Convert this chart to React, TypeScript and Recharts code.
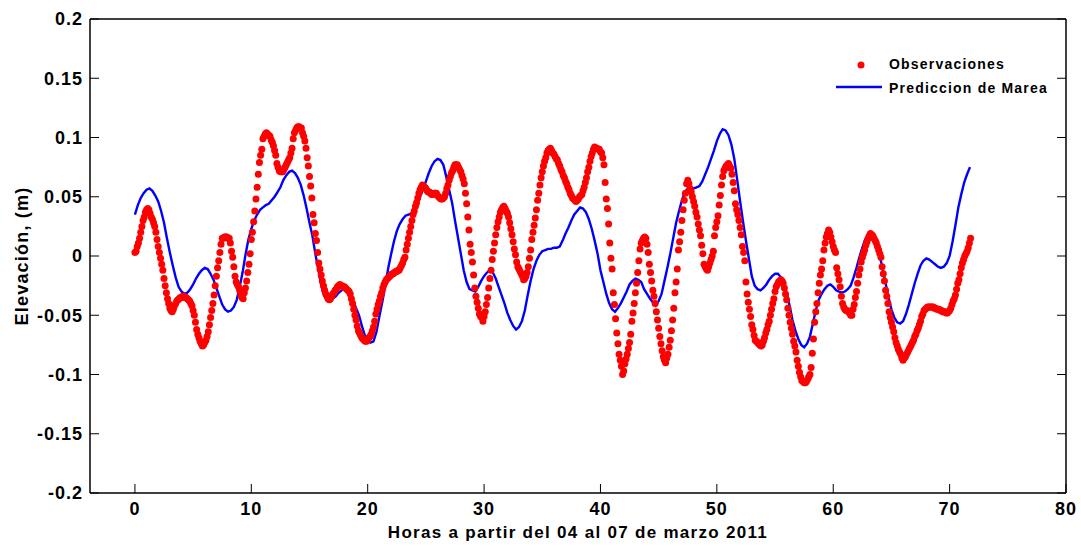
import React from 'react';
import { ComposedChart, Scatter, Line, XAxis, YAxis, Legend } from 'recharts';

// Observaciones cada 6 min (0.1 h), en mm
const obsDia1 = [
  3, 4, 8, 11, 15, 20, 25, 30, 33, 37,
  39, 40, 39, 36, 33, 31, 28, 25, 20, 14,
  8, 3, -2, -7, -12, -19, -25, -31, -36, -40,
  -44, -46, -47, -45, -42, -40, -38, -37, -36, -35,
  -35, -34, -34, -35, -35, -36, -37, -38, -40, -42,
  -46, -50, -56, -62, -66, -69, -72, -74, -76, -75,
  -73, -71, -68, -64, -58, -52, -46, -40, -33, -25,
  -17, -10, -4, 3, 10, 15, 15, 16, 16, 16,
  15, 15, 11, 4, -1, -9, -17, -22, -24, -26,
  -29, -33, -35, -36, -31, -27, -21, -14, -7, 2,
  14, 20, 29, 38, 48, 58, 69, 79, 85, 90,
  99, 101, 103, 104, 103, 102, 101, 98, 96, 93,
  89, 85, 78, 75, 72, 71, 71, 71, 73, 75,
  77, 79, 81, 83, 87, 91, 99, 104, 106, 108,
  109, 109, 108, 108, 104, 101, 97, 91, 83, 76,
  67, 59, 49, 35, 28, 19, 13, 3, -6, -11,
  -16, -21, -25, -29, -32, -34, -36, -37, -36, -34,
  -32, -31, -29, -28, -26, -25, -24, -25, -25, -26,
  -26, -27, -28, -29, -30, -32, -36, -40, -45, -50,
  -54, -59, -63, -65, -67, -69, -70, -71, -72, -72,
  -71, -69, -68, -66, -63, -60, -55, -49, -45, -41,
  -38, -34, -31, -27, -24, -22, -20, -19, -18, -17,
  -16, -15, -15, -14, -13, -13, -12, -12, -10, -8,
  -6, -3, -1, 5, 10, 15, 20, 25, 30, 35,
];
const obsDia2 = [
  38, 42, 45, 49, 53, 56, 58, 60, 59, 58,
  57, 55, 54, 54, 53, 52, 52, 53, 53, 53,
  51, 50, 49, 48, 48, 49, 50, 53, 57, 60,
  64, 67, 70, 72, 75, 77, 77, 77, 75, 73,
  71, 68, 65, 61, 53, 44, 33, 22, 10, 3,
  -5, -16, -27, -34, -39, -44, -49, -51, -52, -55,
  -51, -47, -41, -35, -27, -19, -12, -3, 4, 11,
  18, 24, 29, 33, 37, 39, 41, 42, 40, 38,
  36, 33, 28, 23, 18, 12, 6, 1, -5, -9,
  -11, -13, -15, -17, -20, -19, -17, -14, -9, -2,
  5, 14, 20, 26, 32, 39, 47, 53, 60, 66,
  71, 76, 80, 83, 87, 89, 90, 91, 89, 87,
  86, 84, 82, 81, 78, 76, 73, 71, 68, 66,
  63, 61, 58, 56, 53, 51, 49, 48, 47, 46,
  47, 48, 50, 51, 52, 55, 58, 62, 66, 71,
  75, 80, 84, 87, 90, 92, 91, 91, 90, 90,
  88, 87, 83, 77, 62, 48, 40, 27, 11, -2,
  -11, -31, -41, -53, -65, -74, -83, -88, -93, -100,
  -97, -91, -87, -83, -78, -73, -66, -55, -48, -40,
  -31, -23, -14, -4, 6, 11, 13, 15, 16, 15,
  10, 3, -7, -14, -21, -29, -34, -40, -47, -54,
  -61, -68, -74, -80, -85, -88, -90, -86, -83, -77,
  -71, -63, -54, -44, -31, -22, -11, 5, 12, 20,
  30, 39, 47, 53, 61, 64, 61, 57, 54, 50,
];
const obsDia3 = [
  46, 42, 37, 33, 27, 22, 17, 9, 2, -7,
  -9, -11, -12, -9, -6, -3, 0, 4, 17, 24,
  29, 34, 43, 51, 60, 67, 72, 74, 76, 77,
  78, 76, 74, 69, 62, 55, 44, 39, 35, 30,
  24, 18, 8, 3, -4, -22, -32, -39, -45, -51,
  -58, -62, -67, -71, -72, -73, -74, -75, -76, -75,
  -72, -69, -65, -62, -58, -55, -50, -45, -40, -36,
  -30, -26, -24, -22, -21, -20, -21, -23, -27, -32,
  -37, -44, -50, -56, -61, -66, -72, -76, -81, -88,
  -93, -98, -102, -105, -106, -107, -107, -106, -104, -102,
  -100, -94, -82, -70, -56, -47, -40, -31, -23, -16,
  -11, -4, 5, 11, 16, 19, 22, 20, 16, 12,
  8, 5, 3, -10, -15, -20, -26, -34, -40, -43,
  -45, -46, -46, -47, -48, -50, -50, -45, -41, -35,
  -30, -23, -16, -11, -5, -1, 2, 5, 9, 12,
  15, 17, 19, 18, 17, 15, 13, 11, 8, 5,
  2, -1, -9, -15, -21, -29, -34, -40, -47, -52,
  -56, -60, -64, -69, -73, -76, -79, -81, -83, -86,
  -88, -86, -85, -83, -81, -79, -77, -75, -73, -71,
  -68, -66, -63, -61, -58, -55, -51, -49, -46, -45,
  -44, -43, -43, -43, -43, -43, -43, -44, -44, -45,
  -45, -45, -46, -46, -47, -47, -47, -48, -48, -47,
  -46, -44, -41, -38, -36, -33, -28, -23, -20, -15,
  -10, -6, -3, 0, 2, 4, 7, 11, 15,
];

// Prediccion de marea cada 15 min (0.25 h), en mm
const prediccion = [
  35, 43, 49, 53, 56, 57, 55, 51,
  46, 38, 28, 15, 3, -8, -18, -26,
  -30, -32, -31, -28, -24, -19, -15, -12,
  -10, -11, -15, -20, -27, -34, -41, -45,
  -47, -46, -43, -37, -26, -14, 1, 14,
  23, 30, 35, 39, 41, 43, 44, 47,
  50, 54, 58, 64, 68, 71, 72, 70,
  66, 60, 51, 40, 28, 17, 2, -11,
  -24, -33, -37, -38, -36, -34, -31, -29,
  -26, -27, -31, -38, -44, -50, -59, -67,
  -71, -73, -72, -64, -51, -39, -26, -11,
  1, 12, 21, 27, 31, 34, 35, 36,
  38, 43, 50, 56, 63, 70, 76, 80,
  82, 81, 77, 67, 56, 45, 30, 16,
  2, -12, -22, -28, -29, -30, -26, -21,
  -17, -14, -12, -14, -19, -26, -33, -40,
  -48, -54, -59, -62, -60, -55, -46, -33,
  -21, -11, -4, 1, 4, 5, 6, 6,
  7, 7, 8, 13, 19, 24, 30, 35,
  38, 41, 40, 37, 31, 23, 13, 2,
  -12, -22, -32, -40, -45, -47, -44, -40,
  -35, -30, -24, -21, -19, -20, -22, -28,
  -32, -36, -39, -42, -38, -32, -21, -10,
  2, 15, 28, 38, 47, 54, 57, 57,
  57, 58, 59, 63, 69, 75, 82, 89,
  97, 103, 107, 106, 102, 94, 82, 64,
  46, 29, 13, -2, -17, -25, -28, -29,
  -27, -24, -20, -17, -15, -15, -18, -23,
  -31, -42, -54, -63, -70, -75, -77, -74,
  -68, -57, -46, -37, -32, -28, -25, -24,
  -26, -29, -30, -31, -30, -28, -25, -18,
  -10, -1, 7, 14, 17, 16, 13, 7,
  0, -11, -23, -35, -45, -52, -56, -57,
  -55, -49, -41, -32, -23, -15, -8, -4,
  -2, -3, -5, -7, -9, -10, -9, -6,
  0, 12, 26, 41, 52, 62, 69, 75,
];

const xTicks = [0, 10, 20, 30, 40, 50, 60, 70, 80];
const yTicks = [-0.2, -0.15, -0.1, -0.05, 0, 0.05, 0.1, 0.15, 0.2];

// tiempo en horas desde el indice de muestreo, elevacion en metros
const obsData = [...obsDia1, ...obsDia2, ...obsDia3].map((mm, i) => ({ t: i * 0.1, v: mm / 1000 }));
const predData = prediccion.map((mm, i) => ({ t: i * 0.25, v: mm / 1000 }));

const FONT = '"Liberation Sans", Arial, Helvetica, sans-serif';
const tickFont = { fill: '#000', fontSize: 18, fontWeight: 'bold', fontFamily: FONT, letterSpacing: 1 };
const axisLine = { stroke: '#000', strokeWidth: 1.5 };
const tickLine = { stroke: '#000', strokeWidth: 1 };
const fmtY = (v: number) => String(Math.round(v * 100) / 100);

const Dot = (props: any) => <circle cx={props.cx} cy={props.cy} r={3.5} fill="#ff0000" />;

const LegendBox = () => (
  <svg width={240} height={52} style={{ display: 'block' }}>
    <circle cx={31} cy={15} r={3.5} fill="#ff0000" />
    <line x1={6} x2={52} y1={37} y2={37} stroke="#0000ff" strokeWidth={2.4} />
    <text x={59} y={19} fontFamily={FONT} fontSize={14} fontWeight="bold" letterSpacing={1.2} fill="#000">
      Observaciones
    </text>
    <text x={59} y={43} fontFamily={FONT} fontSize={14} fontWeight="bold" letterSpacing={1.2} fill="#000">
      Prediccion de Marea
    </text>
  </svg>
);

const YTitle = () => (
  <text
    x={22}
    y={256}
    transform="rotate(-90 22 256)"
    textAnchor="middle"
    dominantBaseline="central"
    fontFamily={FONT}
    fontSize={18}
    fontWeight="bold"
    letterSpacing={1.2}
    fill="#000"
  >
    Elevación, (m)
  </text>
);

export default function App() {
  return (
    <div style={{ position: 'absolute', left: 0, top: 0, background: '#fff' }}>
      <ComposedChart width={1081} height={546} margin={{ top: 0, right: 0, bottom: 0, left: 0 }}>
        <XAxis
          dataKey="t"
          type="number"
          domain={[-3.86, 80]}
          ticks={xTicks}
          allowDataOverflow
          height={53}
          axisLine={axisLine}
          tickLine={tickLine}
          tickSize={-9}
          tickMargin={18}
          tick={tickFont}
          interval={0}
          label={{
            value: 'Horas a partir del 04 al 07 de marzo 2011',
            position: 'insideBottom',
            offset: 8,
            style: { fill: '#000', fontSize: 17, fontWeight: 'bold', fontFamily: FONT, letterSpacing: 1.3 },
          }}
        />
        <XAxis
          xAxisId="top"
          orientation="top"
          type="number"
          domain={[-3.86, 80]}
          ticks={xTicks}
          allowDataOverflow
          height={19}
          axisLine={axisLine}
          tickLine={tickLine}
          tickSize={-9}
          tickFormatter={() => ''}
          interval={0}
        />
        <YAxis
          dataKey="v"
          type="number"
          domain={[-0.2, 0.2]}
          ticks={yTicks}
          allowDataOverflow
          width={90}
          axisLine={axisLine}
          tickLine={tickLine}
          tickSize={-9}
          tickMargin={16}
          tick={tickFont}
          tickFormatter={fmtY}
          interval={0}
          label={{ content: () => <YTitle /> }}
        />
        <YAxis
          yAxisId="right"
          orientation="right"
          type="number"
          domain={[-0.2, 0.2]}
          ticks={yTicks}
          allowDataOverflow
          width={15}
          axisLine={axisLine}
          tickLine={tickLine}
          tickSize={-9}
          tickFormatter={() => ''}
          interval={0}
        />
        <Scatter
          name="Observaciones"
          data={obsData}
          dataKey="v"
          shape={<Dot />}
          isAnimationActive={false}
        />
        <Line
          name="Prediccion de Marea"
          data={predData}
          dataKey="v"
          type="linear"
          stroke="#0000ff"
          strokeWidth={2.4}
          dot={false}
          activeDot={false}
          isAnimationActive={false}
        />
        <Legend
          layout="vertical"
          align="center"
          verticalAlign="middle"
          content={() => <LegendBox />}
          wrapperStyle={{ left: 830, top: 50, width: 240, height: 52 }}
        />
      </ComposedChart>
    </div>
  );
}
